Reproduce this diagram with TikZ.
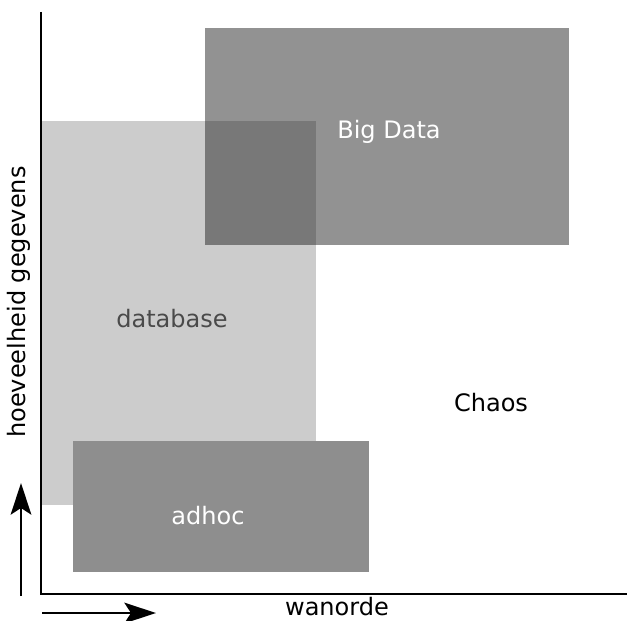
\documentclass[tikz,border=0pt]{standalone}
\usepackage{fontspec}
\setmainfont{DejaVu Sans}
\usetikzlibrary{arrows.meta}

\definecolor{dbgray}{HTML}{CCCCCC}
\definecolor{hocgray}{HTML}{8E8E8E}
\definecolor{dbtext}{HTML}{4A4A4A}

\begin{document}
\begin{tikzpicture}[x=0.03cm,y=-0.03cm,
  line width=0.06cm,
  axis arrow/.style={-{Stealth[length=0.95cm,width=0.62cm,inset=0.2cm]}},
  tag/.style={font=\fontsize{20.5}{24}\selectfont,inner sep=0pt}]

  \useasboundingbox (0,0) rectangle (627,620);

  % blocks
  \fill[dbgray] (41,121) rectangle (316,505);
  \fill[black!85,opacity=0.5] (205,28) rectangle (569,245);
  \fill[hocgray] (73,441) rectangle (369,572);

  % axes
  \coordinate (top) at (41,12);
  \coordinate (origin) at (41,594);
  \coordinate (right) at (627,594);
  \draw (top) -- (origin) -- (right);

  \coordinate (up0) at (21,596);
  \coordinate (up1) at (21,483);
  \coordinate (rt0) at (42,613);
  \coordinate (rt1) at (156,613);
  \draw[axis arrow] (up0) -- (up1);
  \draw[axis arrow] (rt0) -- (rt1);

  \node[tag,white] (bigdata) at (389,132) {Big Data};
  \node[tag,dbtext] (database) at (172,319) {database};
  \node[tag] (chaos) at (491,403) {Chaos};
  \node[tag,white] (adhoc) at (208,516) {adhoc};
  \node[tag] (wanorde) at (337,607) {wanorde};
  \node[tag,rotate=90] (gegevens) at (19,302) {hoeveelheid gegevens};
\end{tikzpicture}
\end{document}
